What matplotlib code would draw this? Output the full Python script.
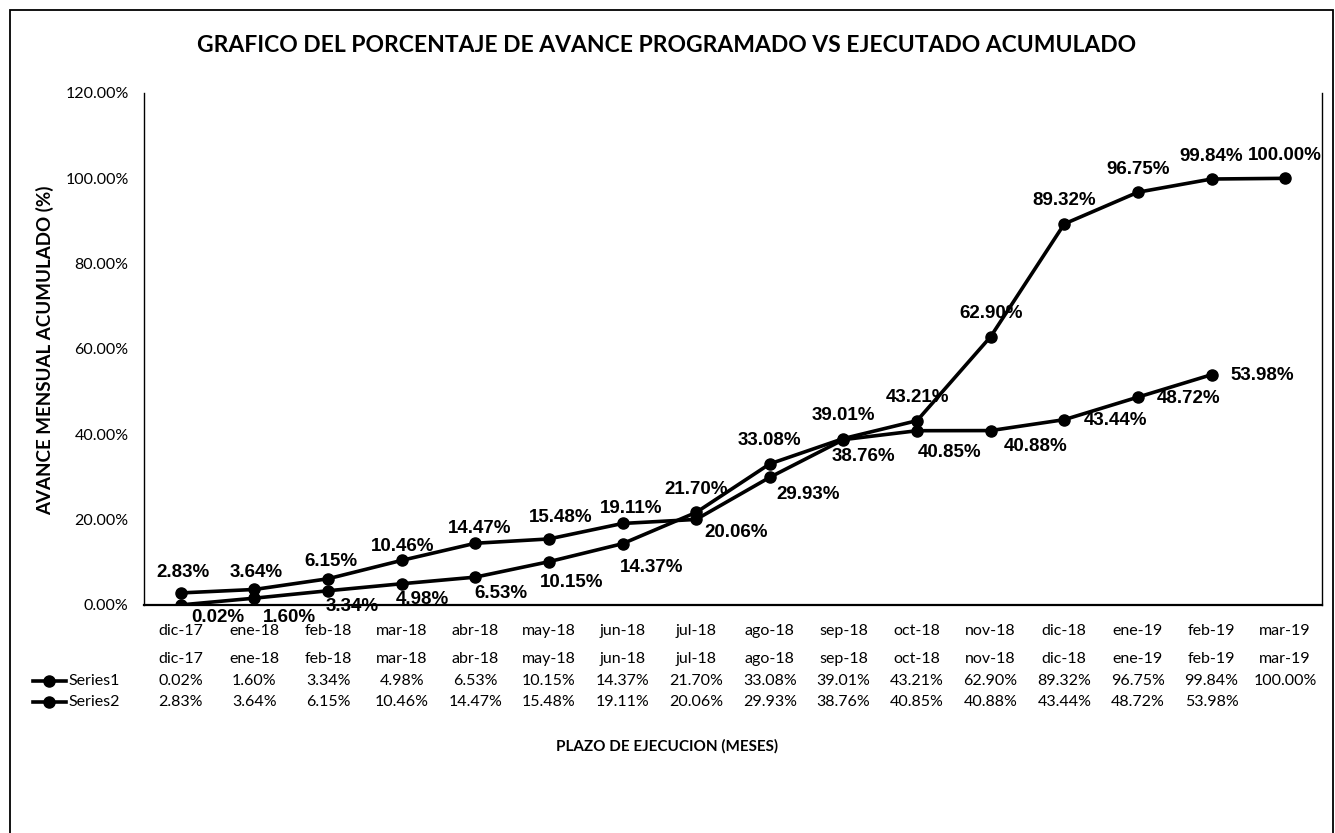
import matplotlib
matplotlib.use('Agg')
import matplotlib.pyplot as plt
from matplotlib.lines import Line2D
from matplotlib.patches import Rectangle
from matplotlib.ticker import FuncFormatter

# data
meses = ["dic-17", "ene-18", "feb-18", "mar-18", "abr-18", "may-18", "jun-18", "jul-18",
         "ago-18", "sep-18", "oct-18", "nov-18", "dic-18", "ene-19", "feb-19", "mar-19"]
series1 = [0.02, 1.60, 3.34, 4.98, 6.53, 10.15, 14.37, 21.70,
           33.08, 39.01, 43.21, 62.90, 89.32, 96.75, 99.84, 100.00]
series2 = [2.83, 3.64, 6.15, 10.46, 14.47, 15.48, 19.11, 20.06,
           29.93, 38.76, 40.85, 40.88, 43.44, 48.72, 53.98]
nombres = ["Series1", "Series2"]

# label offsets in pixels (dx, dy down)
off1 = [(37, 13), (35, 19), (24, 16), (21, 16), (26, 16), (23, 21), (29, 24)] + [(0, -23)] * 9
off2 = [(2, -20), (2, -17), (3, -17), (1, -14), (4, -15), (12, -21), (9, -15),
        (40, 13), (38, 17), (20, 17), (33, 22), (45, 16), (51, 1), (51, 1), (51, 1)]

W, H = 1335, 833
fig = plt.figure(figsize=(W / 100, H / 100), dpi=100)
fig.patch.set_facecolor('white')

cal = 'Lato'
lab_font = 'Liberation Sans'

ax = fig.add_axes([144 / W, 1 - 605 / H, (1322 - 144) / W, (605 - 93) / H])
x1 = list(range(len(series1)))
x2 = list(range(len(series2)))
ax.plot(x1, series1, color='black', linewidth=2.6, marker='o', markersize=8)
ax.plot(x2, series2, color='black', linewidth=2.6, marker='o', markersize=8)

for x, y, (dx, dy) in zip(x1, series1, off1):
    ax.annotate("%.2f%%" % y, (x, y), xytext=(dx * 0.72, -dy * 0.72),
                textcoords='offset points', ha='center', va='center',
                fontsize=13.5, fontweight='bold', family=lab_font)
for x, y, (dx, dy) in zip(x2, series2, off2):
    ax.annotate("%.2f%%" % y, (x, y), xytext=(dx * 0.72, -dy * 0.72),
                textcoords='offset points', ha='center', va='center',
                fontsize=13.5, fontweight='bold', family=lab_font)

ax.set_xlim(-0.5, len(meses) - 0.5)
ax.set_ylim(0, 120)
ax.set_yticks([0, 20, 40, 60, 80, 100, 120])
ax.yaxis.set_major_formatter(FuncFormatter(lambda v, p: "%.2f%%" % v))
ax.set_xticks(x1)
ax.set_xticklabels(meses)
ax.tick_params(axis='both', length=0, labelsize=11.5)
ax.tick_params(axis='x', pad=14)
ax.tick_params(axis='y', pad=11)
for t in ax.get_xticklabels() + ax.get_yticklabels():
    t.set_family(cal)
ax.spines['top'].set_visible(False)
ax.spines['bottom'].set_linewidth(1.6)
ax.spines['left'].set_linewidth(1.0)
ax.spines['right'].set_linewidth(1.0)

# data table below the axis
tr = ax.get_xaxis_transform()
fila_y = [(605 - 659) / 512, (605 - 681) / 512, (605 - 702) / 512]
for i, m in enumerate(meses):
    ax.text(i, fila_y[0], m, transform=tr, ha='center', va='center',
            fontsize=11.5, family=cal, clip_on=False)
for i, v in enumerate(series1):
    ax.text(i, fila_y[1], "%.2f%%" % v, transform=tr, ha='center', va='center',
            fontsize=11.5, family=cal, clip_on=False)
for i, v in enumerate(series2):
    ax.text(i, fila_y[2], "%.2f%%" % v, transform=tr, ha='center', va='center',
            fontsize=11.5, family=cal, clip_on=False)

# legend keys in the table
for nombre, yp in zip(nombres, [681, 702]):
    yf = 1 - yp / H
    fig.add_artist(Line2D([33 / W, 66 / W], [yf, yf], color='black', linewidth=2.6))
    fig.add_artist(Line2D([49 / W], [yf], color='black', marker='o', markersize=8))
    fig.text(68 / W, yf, nombre, ha='left', va='center', fontsize=11.5, family=cal)

fig.text(667 / W, 1 - 45 / H, "GRAFICO DEL PORCENTAJE DE AVANCE PROGRAMADO VS EJECUTADO ACUMULADO",
         ha='center', va='center', fontsize=16.5, fontweight='bold', family=cal)
fig.text(45 / W, 1 - 350 / H, "AVANCE MENSUAL ACUMULADO (%)", rotation=90,
         ha='center', va='center', fontsize=13.5, fontweight='bold', family=cal)
fig.text(667 / W, 1 - 746 / H, "PLAZO DE EJECUCION (MESES)",
         ha='center', va='center', fontsize=11, fontweight='bold', family=cal)

# chart border
fig.add_artist(Rectangle((10 / W, -0.02), (1333 - 10) / W, (833 - 10) / H + 0.02,
                         transform=fig.transFigure, fill=False, edgecolor='black', linewidth=1.3))

fig.savefig('out.png', dpi=100)
